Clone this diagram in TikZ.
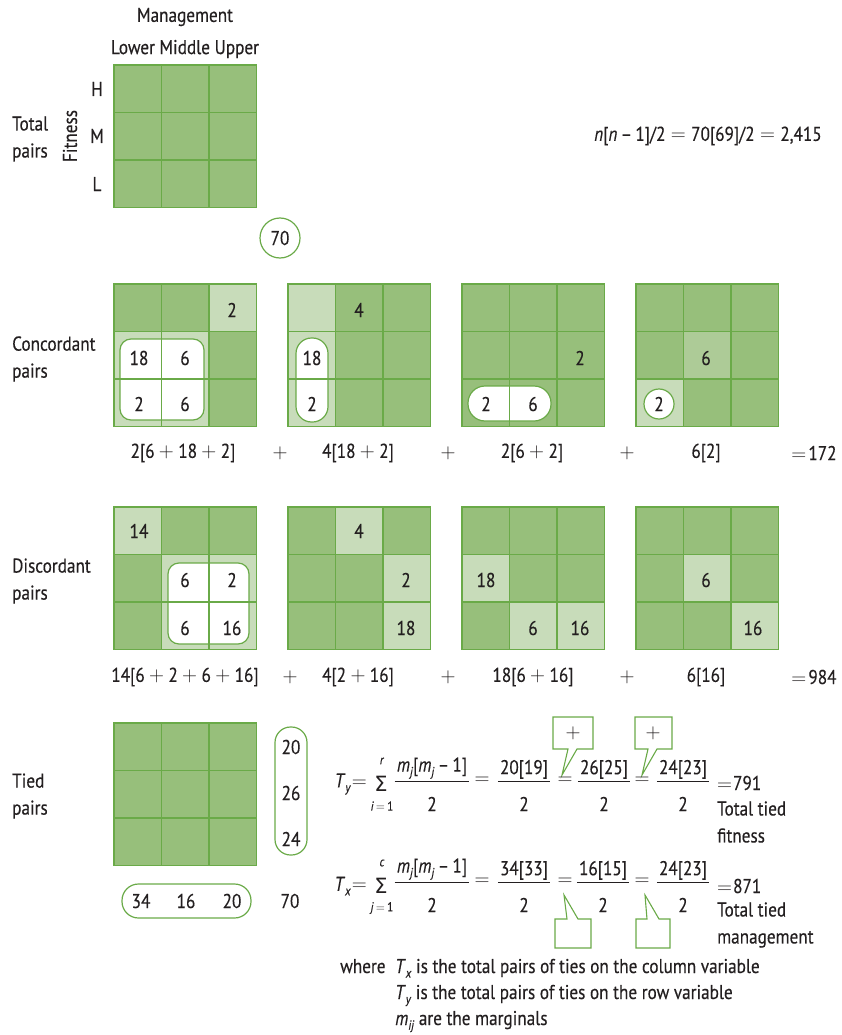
\documentclass[tikz,border=0pt]{standalone}
\usepackage{fontspec}
\setmainfont{PT Sans}[FakeStretch=0.86,FakeBold=0.3]
\newfontfamily\sigfont{DejaVu Sans}
\definecolor{dk}{RGB}{151,191,123}
\definecolor{lt}{RGB}{200,220,186}
\definecolor{md}{RGB}{173,203,151}
\definecolor{gl}{RGB}{106,170,72}
\definecolor{ink}{RGB}{35,31,32}
\newcommand\sub[1]{\raisebox{-0.45ex}{\fontsize{13}{13}\selectfont\textit{#1}}}
\newcommand\pl{\hspace{0.22em}$+$\hspace{0.22em}}
\newcommand\eq{\hspace{0.27em}$=$\hspace{0.27em}}
\newcommand\gcell[5]{\fill[#5] ({#1+(#3-1)*47.5},{#2+(#4-1)*47.5}) rectangle ++(47.5,47.5);}
\newcommand\gbase[2]{\fill[dk] (#1,#2) rectangle ++(142.5,142.5);}
\newcommand\glines[2]{%
  \foreach \k in {1,2}{\draw[gline] ({#1+\k*47.5},#2) -- ++(0,142.5);
    \draw[gline] (#1,{#2+\k*47.5}) -- ++(142.5,0);}
  \draw[gline] (#1,#2) rectangle ++(142.5,142.5);}
% fraction: name, x, line y, numerator
\newcommand\frc[4]{%
  \node[anchor=south, inner xsep=2pt, inner ysep=2pt] (#1n) at (#2,#3) {#4};
  \draw[fracline] (#1n.south west) -- (#1n.south east);
  \node (#1d) at (#2,{#3+23}) {2};}
\begin{document}
\begin{tikzpicture}[x=1pt,y=-1pt,
  every node/.style={text=ink, inner sep=0pt},
  font=\fontsize{20}{27}\selectfont,
  gline/.style={draw=gl, line width=1.6pt},
  ring/.style={draw=gl, line width=1.2pt},
  fracline/.style={draw=ink, line width=0.9pt},
  callout/.style={draw=gl, line width=1.1pt, fill=white, line join=miter},
  lbl/.style={anchor=west, align=left},
  small/.style={font=\fontsize{13}{13}\selectfont}]
\useasboundingbox (0,0) rectangle (841,1035);

% ---------- Total pairs ----------
\node (mgmt) at (185,17) {Management};
\node (lmu) at (185,49) {Lower Middle Upper};
\node[lbl] (tp) at (12,139) {Total\\pairs};
\node[rotate=90] (fit) at (70,136) {Fitness};
\node (rh) at (97,89) {H};
\node (rm) at (97,136) {M};
\node (rl) at (97,184) {L};
\gbase{114}{65}
\glines{114}{65}
\node[circle, draw=gl, line width=1.2pt, minimum size=40pt] (n70) at (280,238) {70};
\node[anchor=west] (nform) at (594,136) {\textit{n}[\textit{n}\,\textendash\,1]/2\eq70[69]/2\eq2,415};

% ---------- Concordant ----------
\node[lbl] (cp) at (12,359) {Concordant\\pairs};
% grid 1
\gbase{114}{284}
\gcell{114}{284}{3}{1}{lt}
\gcell{114}{284}{1}{2}{lt}\gcell{114}{284}{2}{2}{lt}
\gcell{114}{284}{1}{3}{lt}\gcell{114}{284}{2}{3}{lt}
\fill[white, rounded corners=11pt] (120,339) rectangle (204,420);
\glines{114}{284}
\draw[ring, rounded corners=11pt] (120,339) rectangle (204,420);
\node (c1a) at (232,310) {2};
\node (c1b) at (139,358) {18};
\node (c1c) at (185,358) {6};
\node (c1d) at (139,404) {2};
\node (c1e) at (185,404) {6};
% grid 2
\gbase{288}{284}
\gcell{288}{284}{1}{1}{lt}\gcell{288}{284}{1}{2}{lt}\gcell{288}{284}{1}{3}{lt}
\fill[white, rounded corners=15.5pt] (296,338) rectangle (328,422);
\glines{288}{284}
\draw[ring, rounded corners=15.5pt] (296,338) rectangle (328,422);
\node (c2a) at (359,310) {4};
\node (c2b) at (312,358) {18};
\node (c2c) at (312,404) {2};
% grid 3
\gbase{462}{284}
\fill[white, rounded corners=17pt] (468,386) rectangle (551,421);
\glines{462}{284}
\draw[ring, rounded corners=17pt] (468,386) rectangle (551,421);
\node (c3a) at (580,358) {2};
\node (c3b) at (486,404) {2};
\node (c3c) at (533,404) {6};
% grid 4
\gbase{636}{284}
\gcell{636}{284}{2}{2}{md}
\gcell{636}{284}{1}{3}{lt}
\glines{636}{284}
\node (c4a) at (706,358) {6};
\node[circle, draw=gl, line width=1.2pt, fill=white, minimum size=30pt] (c4b) at (659,404) {2};
% formula
\node (cf1) at (183,453) {2[6\pl18\pl2]};
\node (cp1) at (280,453) {$+$};
\node (cf2) at (358,453) {4[18\pl2]};
\node (cp2) at (448,453) {$+$};
\node (cf3) at (532,453) {2[6\pl2]};
\node (cp3) at (627,453) {$+$};
\node (cf4) at (706,453) {6[2]};
\node (cres) at (814,453) {$=$\hspace{0.1em}172};

% ---------- Discordant ----------
\node[lbl] (dp) at (12,581) {Discordant\\pairs};
% grid 1
\gbase{114}{507}
\gcell{114}{507}{1}{1}{lt}
\gcell{114}{507}{2}{2}{lt}\gcell{114}{507}{3}{2}{lt}
\gcell{114}{507}{2}{3}{lt}\gcell{114}{507}{3}{3}{lt}
\fill[white, rounded corners=11pt] (168,563) rectangle (249,644);
\glines{114}{507}
\draw[ring, rounded corners=11pt] (168,563) rectangle (249,644);
\node (d1a) at (139,531) {14};
\node (d1b) at (185,580) {6};
\node (d1c) at (232,580) {2};
\node (d1d) at (185,628) {6};
\node (d1e) at (232,628) {16};
% grid 2
\gbase{288}{507}
\gcell{288}{507}{2}{1}{lt}\gcell{288}{507}{3}{2}{lt}\gcell{288}{507}{3}{3}{lt}
\glines{288}{507}
\node (d2a) at (359,531) {4};
\node (d2b) at (406,580) {2};
\node (d2c) at (406,628) {18};
% grid 3
\gbase{462}{507}
\gcell{462}{507}{1}{2}{lt}\gcell{462}{507}{2}{3}{lt}\gcell{462}{507}{3}{3}{lt}
\glines{462}{507}
\node (d3a) at (486,580) {18};
\node (d3b) at (533,628) {6};
\node (d3c) at (580,628) {16};
% grid 4
\gbase{636}{507}
\gcell{636}{507}{2}{2}{lt}\gcell{636}{507}{3}{3}{lt}
\glines{636}{507}
\node (d4a) at (706,580) {6};
\node (d4b) at (753,628) {16};
% formula
\node (df1) at (185,677) {14[6\pl2\pl6\pl16]};
\node (dp1) at (290,677) {$+$};
\node (df2) at (358,677) {4[2\pl16]};
\node (dp2) at (448,677) {$+$};
\node (df3) at (533,677) {18[6\pl16]};
\node (dp3) at (627,677) {$+$};
\node (df4) at (706,677) {6[16]};
\node (dres) at (814,677) {$=$\hspace{0.1em}984};

% ---------- Tied ----------
\node[lbl] (tdp) at (12,796) {Tied\\pairs};
\gbase{114}{723}
\glines{114}{723}
\draw[ring, rounded corners=15.5pt] (275,727) rectangle (307,855);
\node (m20) at (291,747) {20};
\node (m26) at (291,793) {26};
\node (m24) at (291,839) {24};
\draw[ring, rounded corners=16.5pt] (122,884) rectangle (251,918);
\node (m34) at (141,901) {34};
\node (m16) at (186,901) {16};
\node (m20b) at (232,901) {20};
\node (m70) at (290,901) {70};

% callouts
\draw[callout] (553,749) -- (553,717) -- (593,717) -- (593,749) -- (577,749) -- (562,775) -- (568,749) -- cycle;
\node (pl1) at (573,733) {$+$};
\draw[callout] (635,749) -- (635,717) -- (672,717) -- (672,749) -- (657,749) -- (642,775) -- (648,749) -- cycle;
\node (pl2) at (653,733) {$+$};
\draw[callout] (555,919) -- (567,919) -- (564,895) -- (578,919) -- (591,919) -- (591,948) -- (555,948) -- cycle;
\draw[callout] (636,919) -- (647,919) -- (645,895) -- (659,919) -- (670,919) -- (670,948) -- (636,948) -- cycle;

% Ty formula
\node[anchor=east] (ty) at (367,784) {\textit{T}\sub{y}\hspace{0.05em}$=$};
\node (sy) at (381,784) {\sigfont\fontsize{21}{21}\selectfont Σ};
\node[small] (syr) at (382,761) {\textit{r}};
\node[small] (syi) at (382,806) {\textit{i}\,$=$\,1};
\frc{fy1}{432}{781}{\textit{m}\sub{j}[\textit{m}\sub{j}\,\textendash\,1]}
\node (ey1) at (482,781) {$=$};
\frc{fy2}{524}{781}{20[19]}
\node (ey2) at (565,781) {$=$};
\frc{fy3}{604}{781}{26[25]}
\node (ey3) at (642,781) {$=$};
\frc{fy4}{683}{781}{24[23]}
\node[anchor=west] (ry) at (717,783) {$=$\hspace{0.05em}791};
\node[lbl] (tty) at (717,822) {Total tied\\fitness};

% Tx formula
\node[anchor=east] (tx) at (367,886) {\textit{T}\sub{x}\hspace{0.05em}$=$};
\node (sx) at (381,886) {\sigfont\fontsize{21}{21}\selectfont Σ};
\node[small] (sxc) at (382,863) {\textit{c}};
\node[small] (sxj) at (382,908) {\textit{j}\,$=$\,1};
\frc{fx1}{432}{882}{\textit{m}\sub{j}[\textit{m}\sub{j}\,\textendash\,1]}
\node (ex1) at (482,882) {$=$};
\frc{fx2}{524}{882}{34[33]}
\node (ex2) at (565,882) {$=$};
\frc{fx3}{603}{882}{16[15]}
\node (ex3) at (642,882) {$=$};
\frc{fx4}{683}{882}{24[23]}
\node[anchor=west] (rx) at (717,886) {$=$\hspace{0.05em}871};
\node[lbl] (ttx) at (717,925) {Total tied\\management};

% where
\node[anchor=base west] (wh) at (340,973) {where};
\node[anchor=base west] (w1) at (395,973) {\textit{T}\sub{x} is the total pairs of ties on the column variable};
\node[anchor=base west] (w2) at (395,999) {\textit{T}\sub{y} is the total pairs of ties on the row variable};
\node[anchor=base west] (w3) at (395,1025) {\textit{m}\sub{ij} are the marginals};
\end{tikzpicture}
\end{document}
